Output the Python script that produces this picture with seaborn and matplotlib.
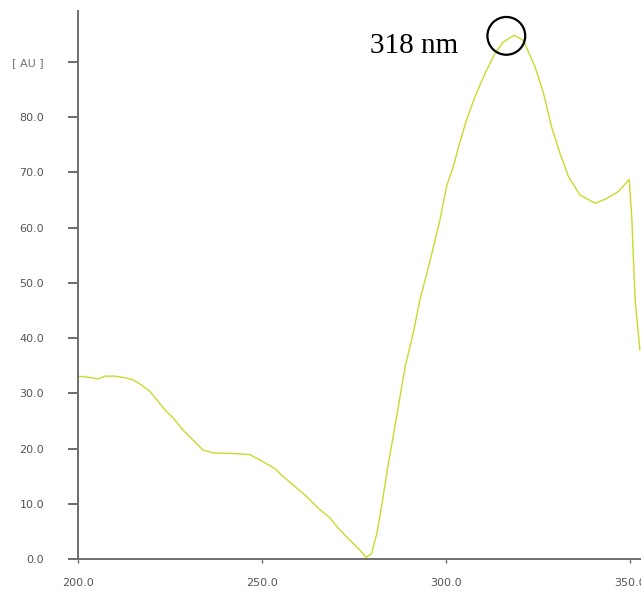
import matplotlib
matplotlib.use("Agg")
import matplotlib.pyplot as plt
import seaborn as sns
import pandas as pd

# UV absorbance spectrum
wavelength_nm = [200.0, 202.8, 205.5, 207.3, 210.0, 212.8, 215.0, 216.8, 219.6, 221.8,
                 223.6, 225.9, 228.6, 231.3, 234.0, 236.8, 242.2, 246.7, 249.5, 253.5,
                 255.8, 258.5, 262.1, 265.3, 268.5, 270.7, 273.9, 276.6, 278.3, 279.8,
                 281.2, 282.5, 283.9, 285.2, 286.6, 288.9, 291.1, 292.9, 294.8, 296.6,
                 298.4, 300.2, 302.0, 303.4, 305.6, 307.9, 310.6, 313.3, 315.6, 318.5,
                 321.0, 324.2, 326.5, 328.7, 331.0, 333.3, 336.4, 340.5, 343.2, 346.8,
                 349.8, 350.5, 351.4, 352.7]
absorbance_au = [33.1, 32.9, 32.6, 33.1, 33.1, 32.8, 32.4, 31.7, 30.3, 28.5,
                 27.0, 25.5, 23.3, 21.5, 19.7, 19.2, 19.1, 18.9, 17.9, 16.4,
                 14.9, 13.4, 11.3, 9.2, 7.4, 5.6, 3.4, 1.6, 0.3, 1.0,
                 4.6, 9.5, 15.5, 20.5, 25.8, 34.8, 40.9, 46.9, 51.7, 56.5,
                 61.5, 67.6, 71.0, 74.6, 79.5, 83.7, 87.9, 91.5, 93.6, 94.8,
                 93.9, 89.1, 84.3, 78.2, 73.4, 69.2, 65.9, 64.4, 65.1, 66.5,
                 68.7, 61.7, 46.9, 37.8]

y_ticks = [0, 10, 20, 30, 40, 50, 60, 70, 80, 90]
y_tick_labels = ["0.0", "10.0", "20.0", "30.0", "40.0", "50.0", "60.0", "70.0", "80.0", "[ AU ]"]
x_ticks = [200, 250, 300, 350]
x_tick_labels = ["200.0", "250.0", "300.0", "350.0"]

peak_label = "318 nm"
peak_marker = (316.4, 94.7)

df = pd.DataFrame({"wavelength": wavelength_nm, "absorbance": absorbance_au})

sns.set_theme(style="white")
plt.rcParams["font.family"] = ["DejaVu Sans"]

fig = plt.figure(figsize=(6.41, 5.90), dpi=100)
ax = fig.add_axes([78 / 641, 31 / 590, 563 / 641, 548 / 590])

sns.lineplot(data=df, x="wavelength", y="absorbance", ax=ax, estimator=None,
             sort=False, color="#cbd92c", linewidth=1.0)

ax.set_xlim(200, 353)
ax.set_ylim(0, 99.2)
ax.set_xticks(x_ticks)
ax.set_xticklabels(x_tick_labels)
ax.set_yticks(y_ticks)
ax.set_yticklabels(y_tick_labels)
ax.set_xlabel("")
ax.set_ylabel("")

for side in ("top", "right"):
    ax.spines[side].set_visible(False)
for side in ("left", "bottom"):
    ax.spines[side].set_color("#6e6e6e")
    ax.spines[side].set_linewidth(1.4)

ax.tick_params(axis="y", direction="out", length=7.5, width=1.4, color="#6e6e6e",
               pad=17, labelsize=8, labelcolor="#555555", left=True)
ax.tick_params(axis="x", direction="out", length=3, width=1.0, color="#6e6e6e",
               pad=11, labelsize=8, labelcolor="#555555", bottom=True)
ax.get_yticklabels()[-1].set_color("#707070")
ax.grid(False)

# Peak callout
ax.text(279.3, 91.6, peak_label, fontsize=21, family="Liberation Serif",
        color="black", va="baseline", ha="left")
ax.scatter([peak_marker[0]], [peak_marker[1]], s=740, facecolors="none",
           edgecolors="black", linewidths=1.6, zorder=5, clip_on=False)

fig.savefig("out.png", dpi=100)
